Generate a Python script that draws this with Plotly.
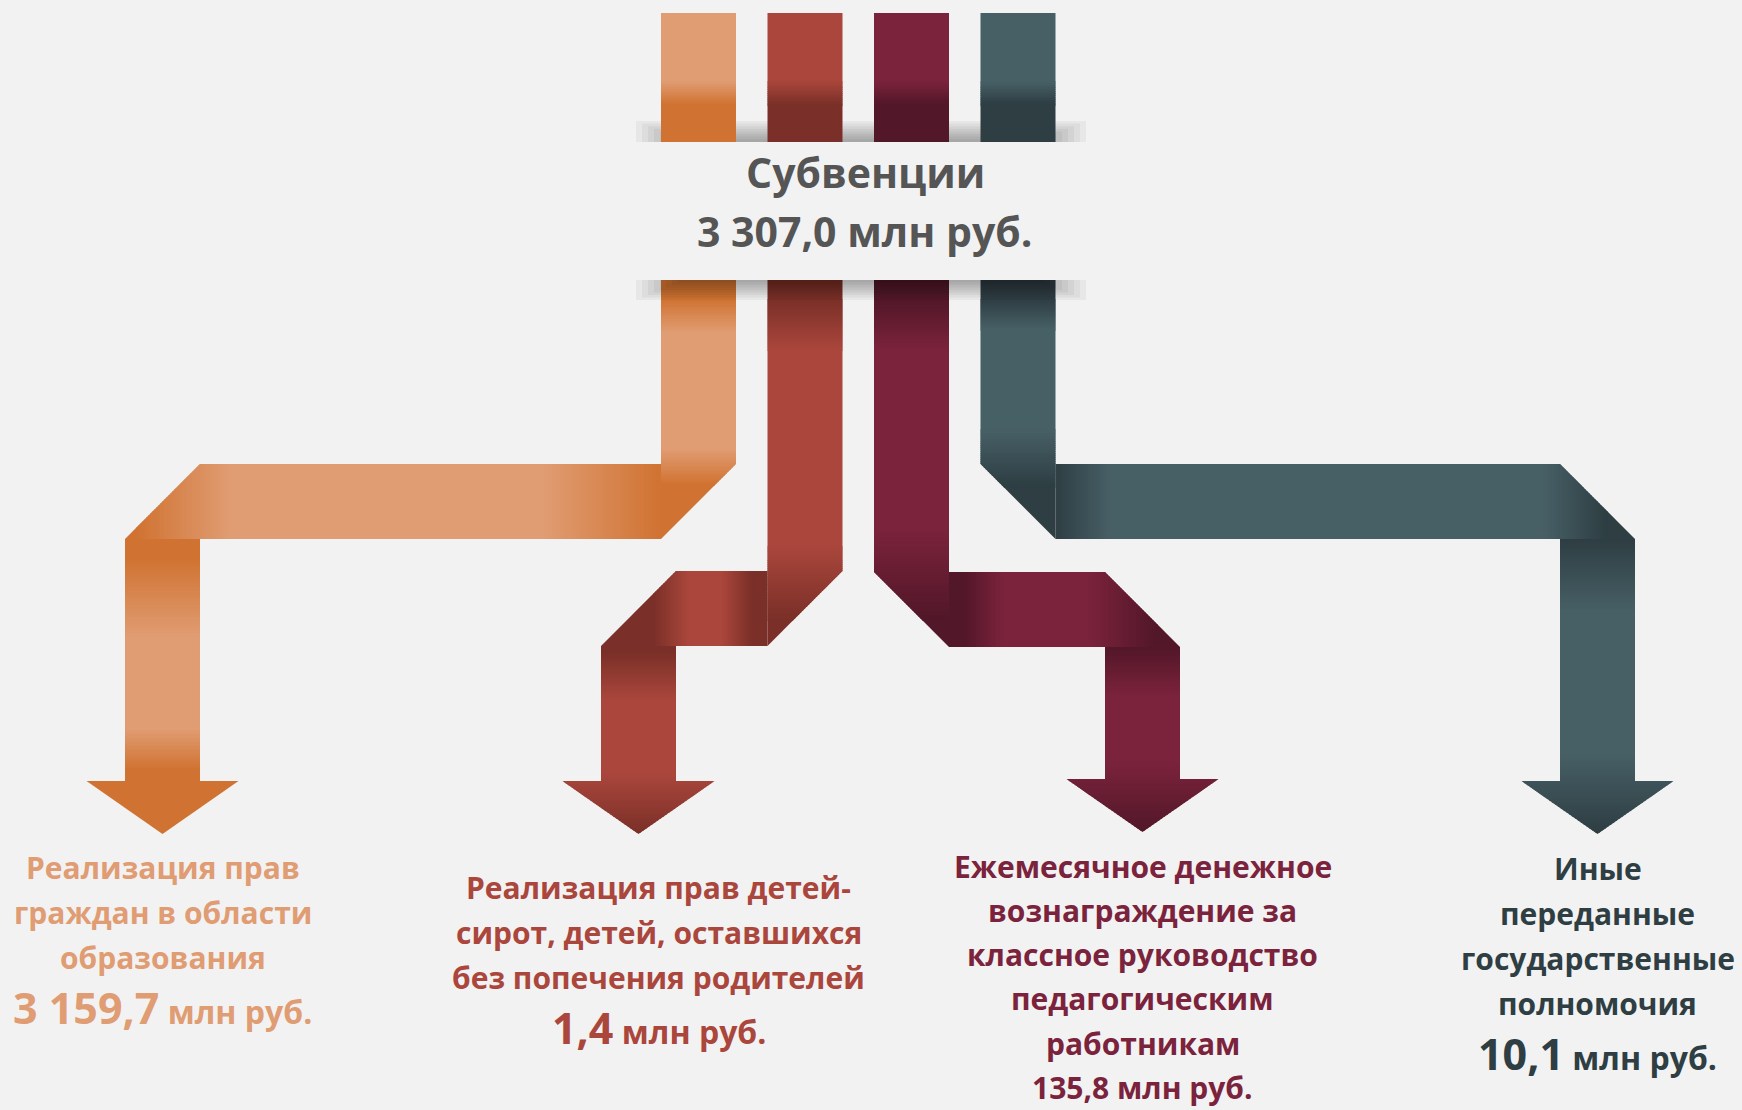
import math
import plotly.graph_objects as go

# ---------------- data ----------------
total_label = ["Субвенции"]
total_value = 3307.0
unit = "млн руб."

categories = [
    ["Реализация прав", "граждан в области", "образования"],
    ["Реализация прав детей-", "сирот, детей, оставшихся", "без попечения родителей"],
    ["Ежемесячное денежное", "вознаграждение за", "классное руководство", "педагогическим", "работникам"],
    ["Иные", "переданные", "государственные", "полномочия"],
]
values = [3159.7, 1.4, 135.8, 10.1]

light_colors = ["#E09C72", "#AA463C", "#7B233C", "#476066"]
dark_colors = ["#D07332", "#7A3028", "#521729", "#2E3E43"]

# ---------------- style / layout ----------------
W_PX, H_PX = 1742, 1110
BG = "#F2F2F2"
FONT = "Open Sans"

BAND = 75           # ribbon thickness
TOP_Y0, TOP_Y1 = 13, 142
LOW_Y0 = 280
bar_x = [661 + i * 106.5 for i in range(4)]
fold_y = [464, 571, 572, 464]
col_x = [125, 601, 1105, 1560]
arrow_base = [781, 781, 779, 781]
ARROW_H = 53
ARROW_HALF = 76

upper_stops = [
    [(280, "D"), (300, "D"), (333, "L"), (450, "L"), (485, "D")],
    [(280, "D"), (300, "D"), (350, "L"), (547, "L"), (620, "D")],
    [(280, "D"), (300, "D"), (350, "L"), (530, "L"), (620, "D")],
    [(280, "D"), (300, "D"), (330, "L"), (430, "L"), (487, "D")],
]
horiz_stops = [
    [(137, "D"), (230, "L"), (545, "L"), (661, "D")],
    [(654, "D"), (689, "L"), (723, "L"), (752, "D")],
    [(964, "D"), (1004, "L"), (1089, "L"), (1157, "D")],
    [(1055, "D"), (1112, "L"), (1544, "L"), (1607, "D")],
]
down_stops = [
    [(540, "D"), (560, "D"), (637, "L"), (730, "L"), (770, "D")],
    [(646, "D"), (653, "D"), (700, "L"), (775, "L"), (834, "D")],
    [(647, "D"), (697, "L"), (763, "L"), (832, "D")],
    [(540, "D"), (613, "L"), (753, "L"), (834, "D")],
]
top_stops = [(82, "L"), (105, "D")]

text_color = [light_colors[0], light_colors[1], light_colors[2], dark_colors[3]]
text_dx = [0, 20, 0, 0]
label_first_baseline = [879, 899, 878, 880]
line_step = [45, 45, 44.2, 45]
LABEL_SIZE = 30
NUM_SIZE = 43
UNIT_SIZE = 32
TITLE_SIZE = 41
big_value = [True, True, False, True]


def hex2rgb(h):
    h = h.lstrip("#")
    return tuple(int(h[i:i + 2], 16) for i in (0, 2, 4))


def mix(c1, c2, t):
    a, b = hex2rgb(c1), hex2rgb(c2)
    return "rgb({},{},{})".format(*[round(a[i] + (b[i] - a[i]) * t) for i in range(3)])


def color_at(stops, t):
    if t <= stops[0][0]:
        return mix(stops[0][1], stops[0][1], 0)
    if t >= stops[-1][0]:
        return mix(stops[-1][1], stops[-1][1], 0)
    for (p0, c0), (p1, c1) in zip(stops, stops[1:]):
        if p0 <= t <= p1:
            return mix(c0, c1, (t - p0) / (p1 - p0) if p1 > p0 else 0)
    return mix(stops[-1][1], stops[-1][1], 0)


def clip_edge(pts, axis, v, keep_greater):
    out = []
    n = len(pts)
    for i in range(n):
        cur, prev = pts[i], pts[i - 1]
        cin = cur[axis] >= v if keep_greater else cur[axis] <= v
        pin = prev[axis] >= v if keep_greater else prev[axis] <= v

        def inter():
            t = (v - prev[axis]) / (cur[axis] - prev[axis])
            return (prev[0] + t * (cur[0] - prev[0]), prev[1] + t * (cur[1] - prev[1]))
        if cin:
            if not pin:
                out.append(inter())
            out.append(cur)
        elif pin:
            out.append(inter())
    return out


def clip(poly, axis, lo, hi):
    p = clip_edge(poly, axis, lo, True)
    if len(p) < 3:
        return []
    return clip_edge(p, axis, hi, False)


shapes = []


def path_of(pts):
    return "M " + " L ".join(f"{x:.2f},{y:.2f}" for x, y in pts) + " Z"


def add_poly(pts, color):
    shapes.append(dict(type="path", xref="x", yref="y", path=path_of(pts),
                       fillcolor=color, line=dict(width=0), layer="above"))


def grad_fill(poly, axis, stops, L, D, step=2.0):
    st = [(p, L if c == "L" else D if c == "D" else c) for p, c in stops]
    lo = min(p[axis] for p in poly)
    hi = max(p[axis] for p in poly)
    cuts = sorted(set([lo, hi] + [s[0] for s in st if lo < s[0] < hi]))
    for a, b in zip(cuts, cuts[1:]):
        ca, cb = color_at(st, a), color_at(st, b)
        n = 1 if ca == cb else max(1, math.ceil((b - a) / step))
        for k in range(n):
            s0 = a + (b - a) * k / n
            s1 = a + (b - a) * (k + 1) / n
            col = color_at(st, (s0 + s1) / 2)
            piece = clip(poly, axis, s0 - 0.7, s1 + 0.7)
            if len(piece) >= 3:
                add_poly(piece, col)


def add_rect(x0, x1, y0, y1, color):
    shapes.append(dict(type="rect", xref="x", yref="y", x0=x0, x1=x1, y0=y0, y1=y1,
                       fillcolor=color, line=dict(width=0), layer="above"))


# top shadow (under the top bars)
for k in range(8):
    add_rect(636 + k * 6, 1086 - k * 6, 121 + k * 2.6, 142, "rgba(0,0,0,0.045)")

for i in range(len(values)):
    L, D = light_colors[i], dark_colors[i]
    bx = bar_x[i]
    F = fold_y[i]
    tx = col_x[i]
    grad_fill([(bx, TOP_Y0), (bx + BAND, TOP_Y0), (bx + BAND, TOP_Y1), (bx, TOP_Y1)], 1, top_stops, L, D)
    if tx < bx:
        vert = [(bx, LOW_Y0), (bx + BAND, LOW_Y0), (bx + BAND, F), (bx, F + BAND)]
        horiz = [(tx + BAND, F), (bx, F), (bx, F + BAND), (tx, F + BAND)]
    else:
        vert = [(bx, LOW_Y0), (bx + BAND, LOW_Y0), (bx + BAND, F + BAND), (bx, F)]
        horiz = [(bx + BAND, F), (tx, F), (tx + BAND, F + BAND), (bx + BAND, F + BAND)]
    grad_fill(vert, 1, upper_stops[i], L, D)
    grad_fill(horiz, 0, horiz_stops[i], L, D)
    base = arrow_base[i]
    col = [(tx, F + BAND), (tx + BAND, F + BAND), (tx + BAND, base + 0.5), (tx, base + 0.5)]
    grad_fill(col, 1, down_stops[i], L, D)
    cx = tx + BAND / 2
    head = [(cx - ARROW_HALF, base), (cx + ARROW_HALF, base), (cx, base + ARROW_H)]
    grad_fill(head, 1, down_stops[i], L, D)

# bottom shadow (over the lower bars)
for k in range(8):
    add_rect(636 + k * 6, 1086 - k * 6, LOW_Y0, 300 - k * 2.5, "rgba(0,0,0,0.045)")


def fmt(v):
    return f"{v:,.1f}".replace(",", " ").replace(".", ",")


annotations = []


def add_text(x, baseline, text, size, color, max_size=None):
    ms = max_size or size
    annotations.append(dict(
        x=x, y=baseline - 0.388 * ms, xref="x", yref="y", xanchor="center", yanchor="middle",
        text=text, showarrow=False, borderpad=0, borderwidth=0,
        font=dict(family=FONT, size=size, color=color)))


# central title
add_text(865, 188, "<b>" + total_label[0] + "</b>", TITLE_SIZE, "#555555")
add_text(865, 247, "<b>" + fmt(total_value) + " " + unit + "</b>", TITLE_SIZE, "#555555")

for i in range(len(values)):
    cx = col_x[i] + BAND / 2 + text_dx[i]
    y = label_first_baseline[i]
    step = line_step[i]
    for line in categories[i]:
        add_text(cx, y, "<b>" + line + "</b>", LABEL_SIZE, text_color[i])
        y += step
    y -= step
    if big_value[i]:
        y += 55
        txt = (f"<b><span style='font-size:{NUM_SIZE}px'>{fmt(values[i])}</span> {unit}</b>")
        add_text(cx, y, txt, UNIT_SIZE, text_color[i], max_size=NUM_SIZE)
    else:
        y += step
        add_text(cx, y, f"<b>{fmt(values[i])} {unit}</b>", LABEL_SIZE, text_color[i])

fig = go.Figure(go.Scatter(x=[], y=[], hoverinfo="skip", showlegend=False))
fig.update_layout(
    width=W_PX, height=H_PX,
    margin=dict(l=0, r=0, t=0, b=0),
    paper_bgcolor=BG, plot_bgcolor=BG,
    xaxis=dict(range=[0, W_PX], visible=False, fixedrange=True),
    yaxis=dict(range=[H_PX, 0], visible=False, fixedrange=True),
    shapes=shapes, annotations=annotations, showlegend=False,
)
fig.write_html("out.html", config={"displayModeBar": False},
               post_script="document.body.style.margin='0';document.body.style.background='#F2F2F2';")
